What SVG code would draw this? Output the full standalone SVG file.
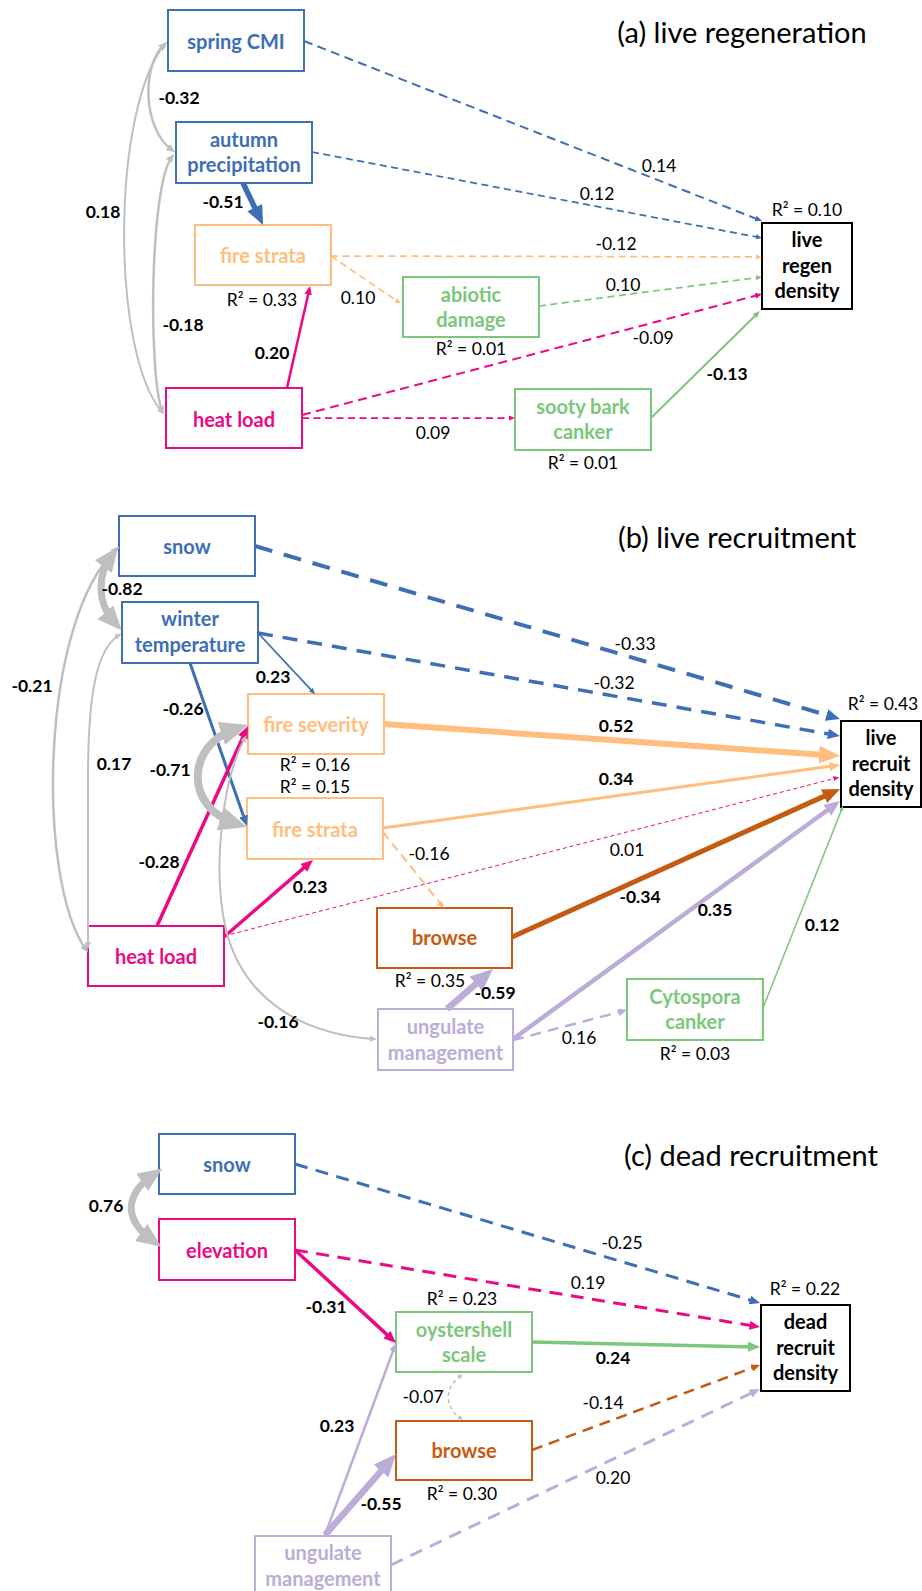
<svg xmlns="http://www.w3.org/2000/svg" width="922" height="1591" viewBox="0 0 922 1591">
<style>
.box{fill:#fff;stroke-width:2}
.nl{font-family:Lato,"Open Sans","Liberation Sans",sans-serif;font-size:20px;font-weight:700;text-anchor:middle}
.t{font-family:Lato,"Open Sans","Liberation Sans",sans-serif;font-size:17.5px;text-anchor:middle;fill:#000}
.bd{font-weight:700}
.title{font-family:Lato,"Open Sans","Liberation Sans",sans-serif;font-size:29px;text-anchor:middle;fill:#000}
.c{fill:none}
.blue{stroke:#3E6EB5}.orange{stroke:#FFBE7D}.green{stroke:#7CC77B}.pink{stroke:#EC0A84}.brown{stroke:#C55A11}.lav{stroke:#BBADD8}.gray{stroke:#BFBFBF}
.d1{stroke-dasharray:4 3}.d15{stroke-dasharray:7 4.5}.d2{stroke-dasharray:9 5.5}.d25{stroke-dasharray:11 7}.d3{stroke-dasharray:13 8.5}.d35{stroke-dasharray:15 10}.d4{stroke-dasharray:18 12}
</style>
<defs>
<marker id="mb" viewBox="0 0 14 12" refX="8" refY="6" markerWidth="3.5" markerHeight="3" orient="auto-start-reverse" markerUnits="strokeWidth"><path d="M0,0L14,6L0,12z" fill="#3E6EB5"/></marker>
<marker id="mo" viewBox="0 0 14 12" refX="8" refY="6" markerWidth="3.5" markerHeight="3" orient="auto-start-reverse" markerUnits="strokeWidth"><path d="M0,0L14,6L0,12z" fill="#FFBE7D"/></marker>
<marker id="mg" viewBox="0 0 14 12" refX="8" refY="6" markerWidth="3.5" markerHeight="3" orient="auto-start-reverse" markerUnits="strokeWidth"><path d="M0,0L14,6L0,12z" fill="#7CC77B"/></marker>
<marker id="mp" viewBox="0 0 14 12" refX="8" refY="6" markerWidth="3.5" markerHeight="3" orient="auto-start-reverse" markerUnits="strokeWidth"><path d="M0,0L14,6L0,12z" fill="#EC0A84"/></marker>
<marker id="mps" viewBox="0 0 14 12" refX="11" refY="6" markerWidth="6" markerHeight="5" orient="auto" markerUnits="strokeWidth"><path d="M0,0L14,6L0,12z" fill="#EC0A84"/></marker>
<marker id="mbr" viewBox="0 0 14 12" refX="8" refY="6" markerWidth="3.5" markerHeight="3" orient="auto-start-reverse" markerUnits="strokeWidth"><path d="M0,0L14,6L0,12z" fill="#C55A11"/></marker>
<marker id="ml" viewBox="0 0 14 12" refX="8" refY="6" markerWidth="3.5" markerHeight="3" orient="auto-start-reverse" markerUnits="strokeWidth"><path d="M0,0L14,6L0,12z" fill="#BBADD8"/></marker>
<marker id="mgr" viewBox="0 0 14 12" refX="8" refY="6" markerWidth="3.5" markerHeight="3" orient="auto-start-reverse" markerUnits="strokeWidth"><path d="M0,0L14,6L0,12z" fill="#BFBFBF"/></marker>
</defs>

<text class="title" x="742" y="43">(a) live regeneration</text>
<text class="title" x="737" y="548">(b) live recruitment</text>
<text class="title" x="751" y="1166">(c) dead recruitment</text>

<!-- Panel (a) nodes -->
<g id="a-spring-cmi"><rect class="box" x="168" y="10" width="136" height="61" stroke="#3E6EB5"/><text class="nl" x="236" y="48.5" fill="#3E6EB5">spring CMI</text></g>
<g id="a-autumn-precip"><rect class="box" x="176" y="122" width="136" height="61" stroke="#3E6EB5"/><text class="nl" x="244" y="147" fill="#3E6EB5">autumn</text><text class="nl" x="244" y="172" fill="#3E6EB5">precipitation</text></g>
<g id="a-fire-strata"><rect class="box" x="195" y="225" width="136" height="60" stroke="#FFBE7D"/><text class="nl" x="263" y="263" fill="#FFBE7D">fire strata</text></g>
<g id="a-abiotic"><rect class="box" x="403" y="277" width="136" height="60" stroke="#7CC77B"/><text class="nl" x="471" y="301.5" fill="#7CC77B">abiotic</text><text class="nl" x="471" y="327" fill="#7CC77B">damage</text></g>
<g id="a-heat-load"><rect class="box" x="166" y="388" width="136" height="60" stroke="#EC0A84"/><text class="nl" x="234" y="427" fill="#EC0A84">heat load</text></g>
<g id="a-sooty"><rect class="box" x="515" y="389" width="136" height="61" stroke="#7CC77B"/><text class="nl" x="583" y="413.5" fill="#7CC77B">sooty bark</text><text class="nl" x="583" y="438.5" fill="#7CC77B">canker</text></g>
<g id="a-live-regen"><rect class="box" x="762" y="223" width="90" height="86" stroke="#000" stroke-width="2.5"/><text class="nl" x="807" y="247" fill="#000">live</text><text class="nl" x="807" y="273" fill="#000">regen</text><text class="nl" x="807" y="298" fill="#000">density</text></g>

<!-- Panel (b) nodes -->
<g id="b-snow"><rect class="box" x="119" y="516" width="136" height="60" stroke="#3E6EB5"/><text class="nl" x="187" y="554" fill="#3E6EB5">snow</text></g>
<g id="b-winter-temp"><rect class="box" x="122" y="602" width="136" height="61" stroke="#3E6EB5"/><text class="nl" x="190" y="626" fill="#3E6EB5">winter</text><text class="nl" x="190" y="651.5" fill="#3E6EB5">temperature</text></g>
<g id="b-fire-severity"><rect class="box" x="248" y="694" width="136" height="60" stroke="#FFBE7D"/><text class="nl" x="316" y="732" fill="#FFBE7D">fire severity</text></g>
<g id="b-fire-strata"><rect class="box" x="247" y="798" width="136" height="61" stroke="#FFBE7D"/><text class="nl" x="315" y="836.5" fill="#FFBE7D">fire strata</text></g>
<g id="b-heat-load"><rect class="box" x="88" y="926" width="136" height="60" stroke="#EC0A84"/><text class="nl" x="156" y="964" fill="#EC0A84">heat load</text></g>
<g id="b-browse"><rect class="box" x="377" y="908" width="135" height="60" stroke="#C55A11"/><text class="nl" x="444.5" y="945" fill="#C55A11">browse</text></g>
<g id="b-ungulate"><rect class="box" x="378" y="1009" width="135" height="61" stroke="#BBADD8"/><text class="nl" x="445.5" y="1034" fill="#BBADD8">ungulate</text><text class="nl" x="445.5" y="1059.5" fill="#BBADD8">management</text></g>
<g id="b-cytospora"><rect class="box" x="627" y="979" width="136" height="61" stroke="#7CC77B"/><text class="nl" x="695" y="1003.5" fill="#7CC77B">Cytospora</text><text class="nl" x="695" y="1028.5" fill="#7CC77B">canker</text></g>
<g id="b-live-recruit"><rect class="box" x="841" y="721" width="80" height="86" stroke="#000" stroke-width="2.5"/><text class="nl" x="881" y="745" fill="#000">live</text><text class="nl" x="881" y="771" fill="#000">recruit</text><text class="nl" x="881" y="796" fill="#000">density</text></g>

<!-- Panel (c) nodes -->
<g id="c-snow"><rect class="box" x="159" y="1134" width="136" height="60" stroke="#3E6EB5"/><text class="nl" x="227" y="1172" fill="#3E6EB5">snow</text></g>
<g id="c-elevation"><rect class="box" x="159" y="1219" width="136" height="61" stroke="#EC0A84"/><text class="nl" x="227" y="1257.5" fill="#EC0A84">elevation</text></g>
<g id="c-oystershell"><rect class="box" x="396" y="1312" width="136" height="60" stroke="#7CC77B"/><text class="nl" x="464" y="1336.5" fill="#7CC77B">oystershell</text><text class="nl" x="464" y="1362" fill="#7CC77B">scale</text></g>
<g id="c-browse"><rect class="box" x="396" y="1421" width="136" height="59" stroke="#C55A11"/><text class="nl" x="464" y="1457.5" fill="#C55A11">browse</text></g>
<g id="c-ungulate"><rect class="box" x="255" y="1536" width="136" height="62" stroke="#BBADD8"/><text class="nl" x="323" y="1560" fill="#BBADD8">ungulate</text><text class="nl" x="323" y="1586" fill="#BBADD8">management</text></g>
<g id="c-dead-recruit"><rect class="box" x="761" y="1305" width="89" height="86" stroke="#000" stroke-width="2.5"/><text class="nl" x="805.5" y="1329" fill="#000">dead</text><text class="nl" x="805.5" y="1355" fill="#000">recruit</text><text class="nl" x="805.5" y="1380" fill="#000">density</text></g>

<g id="connectors" class="c">
<!-- (a) -->
<path class="c blue d2" stroke-width="2" d="M304,41L759.2,219.9" marker-end="url(#mb)"/>
<path class="c blue d15" stroke-width="1.75" d="M312,152L759.4,237.5" marker-end="url(#mb)"/>
<path class="c orange d15" stroke-width="1.75" d="M331,256L759.4,257" marker-end="url(#mo)"/>
<path class="c green d15" stroke-width="1.75" d="M539,306L759.4,277.3" marker-end="url(#mg)"/>
<path class="c pink d2" stroke-width="2" d="M302,415L759.1,294.8" marker-end="url(#mp)"/>
<path class="c pink d15" stroke-width="1.75" d="M302,418L512.4,418" marker-end="url(#mp)"/>
<path class="c green" stroke-width="2" d="M651,418L757.7,313.2" marker-end="url(#mg)"/>
<path class="c orange d15" stroke-width="1.75" d="M331,256L398.7,302.1" marker-end="url(#mo)"/>
<path class="c blue" stroke-width="5.5" d="M243,183L259.5,217.5" marker-end="url(#mb)"/>
<path class="c pink" stroke-width="2.5" d="M287,388L309.2,289.7" marker-end="url(#mp)"/>
<path class="c gray" stroke-width="2.5" d="M164,45C142,65 142,128 172,150" marker-start="url(#mgr)" marker-end="url(#mgr)"/>
<path class="c gray" stroke-width="2" d="M165,44C112,108 110,350 162,412" marker-start="url(#mgr)" marker-end="url(#mgr)"/>
<path class="c gray" stroke-width="2.5" d="M172,157C150,185 148,370 162,411" marker-start="url(#mgr)" marker-end="url(#mgr)"/>
<!-- (b) -->
<path class="c blue d4" stroke-width="4" d="M255,546L834.2,717.3" marker-end="url(#mb)"/>
<path class="c blue d35" stroke-width="3.5" d="M258,633L834.8,735.1" marker-end="url(#mb)"/>
<path class="c orange" stroke-width="6" d="M384,724L831,755.4" marker-end="url(#mo)"/>
<path class="c orange" stroke-width="3" d="M383,828L835.5,765.6" marker-end="url(#mo)"/>
<path class="c pink d1" stroke-width="1" d="M224,936L838,777.5" marker-end="url(#mps)"/>
<path class="c brown" stroke-width="5" d="M512,937L833.2,792.1" marker-end="url(#mbr)"/>
<path class="c lav" stroke-width="4.5" d="M513,1039L834.5,805" marker-end="url(#ml)"/>
<path class="c green" stroke-width="1.5" d="M763,1008L842.2,808.1" marker-end="url(#mg)"/>
<path class="c lav d25" stroke-width="2.5" d="M513,1040L623.4,1011" marker-end="url(#ml)"/>
<path class="c blue" stroke-width="1.75" d="M258,633L313.2,692.1" marker-end="url(#mb)"/>
<path class="c blue" stroke-width="3" d="M190,663L245.5,821.8" marker-end="url(#mb)"/>
<path class="c pink" stroke-width="3.5" d="M157,926L245.8,730.8" marker-end="url(#mp)"/>
<path class="c pink" stroke-width="3.5" d="M224,937L309,863.4" marker-end="url(#mp)"/>
<path class="c orange d2" stroke-width="2" d="M383,832L442.1,905.7" marker-end="url(#mo)"/>
<path class="c lav" stroke-width="6.5" d="M447,1009L485.6,975.5" marker-end="url(#ml)"/>
<path class="c gray" stroke-width="7" d="M111.7,555.4C97,575 97,603 114.7,622.6" marker-start="url(#mgr)" marker-end="url(#mgr)"/>
<path class="c gray" stroke-width="2.5" d="M116.8,549C40,620 36,880 86.1,949.7" marker-start="url(#mgr)" marker-end="url(#mgr)"/>
<path class="c gray" stroke-width="2" d="M119,635C95,650 88,700 88,780L88,946" marker-start="url(#mgr)" marker-end="url(#mgr)"/>
<path class="c gray" stroke-width="8" d="M236.6,728.6C185,745 185,808 235.6,823.4" marker-start="url(#mgr)" marker-end="url(#mgr)"/>
<path class="c gray" stroke-width="2" d="M245,738C222,780 212,870 226,930C245,1005 310,1035 374,1039" marker-start="url(#mgr)" marker-end="url(#mgr)"/>
<!-- (c) -->
<path class="c blue d3" stroke-width="3" d="M295,1164L755.7,1301.7" marker-end="url(#mb)"/>
<path class="c pink d3" stroke-width="3" d="M295,1250L755.6,1326.3" marker-end="url(#mp)"/>
<path class="c green" stroke-width="3.5" d="M532,1342L754.8,1346.9" marker-end="url(#mg)"/>
<path class="c brown d25" stroke-width="2.5" d="M532,1450L756.5,1366.3" marker-end="url(#mbr)"/>
<path class="c lav d3" stroke-width="3" d="M391,1565L755.9,1390.9" marker-end="url(#ml)"/>
<path class="c pink" stroke-width="3.5" d="M295,1250L392.1,1339.4" marker-end="url(#mp)"/>
<path class="c lav" stroke-width="2.5" d="M325,1535L394.7,1346.5" marker-end="url(#ml)"/>
<path class="c lav" stroke-width="6.5" d="M325,1535L389.6,1461.3" marker-end="url(#ml)"/>
<path class="c gray" stroke-width="7" d="M153.7,1174.4C124,1195 124,1220 152.7,1240.6" marker-start="url(#mgr)" marker-end="url(#mgr)"/>
<path class="c gray d1" stroke-width="1.5" d="M461,1375.5C444,1388 444,1407 461,1418.5" marker-start="url(#mgr)" marker-end="url(#mgr)"/>
</g>

<g id="labels">
<!-- (a) -->
<text class="t bd" x="179" y="104">-0.32</text>
<text class="t bd" x="103" y="218">0.18</text>
<text class="t bd" x="223" y="208">-0.51</text>
<text class="t bd" x="183" y="331">-0.18</text>
<text class="t bd" x="272" y="359">0.20</text>
<text class="t" x="358" y="304">0.10</text>
<text class="t" x="433" y="439">0.09</text>
<text class="t" x="659" y="172">0.14</text>
<text class="t" x="597" y="200">0.12</text>
<text class="t" x="616" y="250">-0.12</text>
<text class="t" x="623" y="291">0.10</text>
<text class="t" x="653" y="344">-0.09</text>
<text class="t bd" x="727" y="380">-0.13</text>
<text class="t" x="807" y="216">R² = 0.10</text>
<text class="t" x="262" y="306">R² = 0.33</text>
<text class="t" x="471" y="355">R² = 0.01</text>
<text class="t" x="583" y="469">R² = 0.01</text>
<!-- (b) -->
<text class="t bd" x="122" y="595">-0.82</text>
<text class="t bd" x="32" y="692">-0.21</text>
<text class="t bd" x="114" y="770">0.17</text>
<text class="t bd" x="183" y="715">-0.26</text>
<text class="t bd" x="170" y="776">-0.71</text>
<text class="t bd" x="159" y="868">-0.28</text>
<text class="t bd" x="310" y="893">0.23</text>
<text class="t bd" x="273" y="683">0.23</text>
<text class="t bd" x="278" y="1028">-0.16</text>
<text class="t" x="429" y="860">-0.16</text>
<text class="t" x="315" y="771">R² = 0.16</text>
<text class="t" x="315" y="793">R² = 0.15</text>
<text class="t" x="430" y="987">R² = 0.35</text>
<text class="t bd" x="495" y="999">-0.59</text>
<text class="t" x="579" y="1044">0.16</text>
<text class="t" x="695" y="1060">R² = 0.03</text>
<text class="t bd" x="640" y="903">-0.34</text>
<text class="t bd" x="715" y="916">0.35</text>
<text class="t" x="627" y="856">0.01</text>
<text class="t" x="635" y="650">-0.33</text>
<text class="t" x="614" y="689">-0.32</text>
<text class="t bd" x="616" y="732">0.52</text>
<text class="t bd" x="616" y="785">0.34</text>
<text class="t bd" x="822" y="931">0.12</text>
<text class="t" x="883" y="710">R² = 0.43</text>
<!-- (c) -->
<text class="t bd" x="106" y="1212">0.76</text>
<text class="t bd" x="326" y="1313">-0.31</text>
<text class="t bd" x="337" y="1432">0.23</text>
<text class="t bd" x="381" y="1510">-0.55</text>
<text class="t" x="423" y="1403">-0.07</text>
<text class="t" x="462" y="1305">R² = 0.23</text>
<text class="t" x="462" y="1500">R² = 0.30</text>
<text class="t" x="622" y="1249">-0.25</text>
<text class="t" x="588" y="1289">0.19</text>
<text class="t bd" x="613" y="1364">0.24</text>
<text class="t" x="603" y="1409">-0.14</text>
<text class="t" x="613" y="1484">0.20</text>
<text class="t" x="805" y="1295">R² = 0.22</text>
</g>
</svg>
